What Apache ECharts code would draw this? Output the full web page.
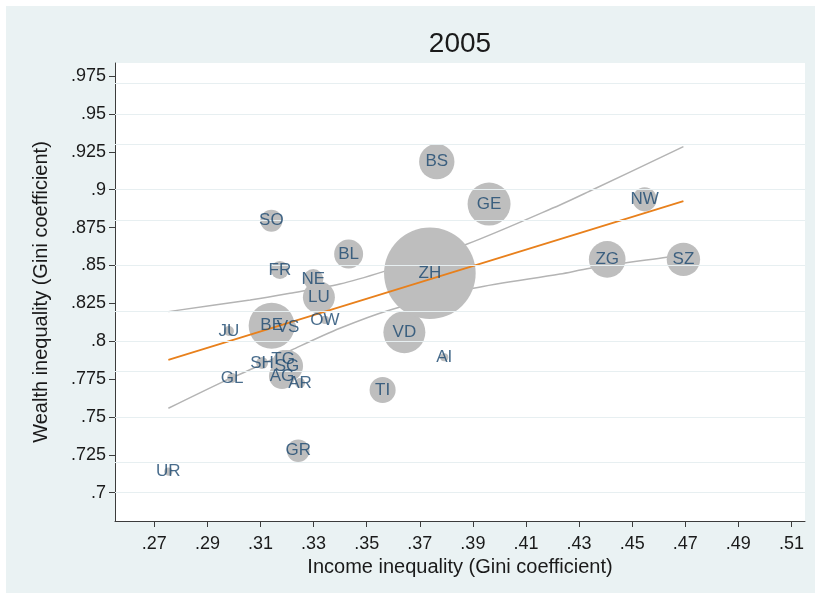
<!DOCTYPE html>
<html>
<head>
<meta charset="utf-8">
<script src="https://cdn.jsdelivr.net/npm/echarts@6/dist/echarts.min.js"></script>
<style>
  html, body { margin: 0; padding: 0; background: #ffffff; }
  #frame { position: absolute; left: 6px; top: 6px; width: 809px; height: 587px; background: #eaf2f3; }
  #chart { position: absolute; left: 0; top: 0; width: 821px; height: 599px; }
</style>
</head>
<body>
<div id="frame"></div>
<div id="chart"></div>
<script>
// Swiss cantons, 2005: income vs. wealth inequality (Gini coefficients)
const cantons = ['AG','AI','AR','BE','BL','BS','FR','GE','GL','GR','JU','LU','NE',
                 'NW','OW','SG','SH','SO','SZ','TG','TI','UR','VD','VS','ZG','ZH'];
const incomeGini = [0.3181,0.3792,0.3249,0.3142,0.3432,0.3764,0.3173,0.3961,0.2993,0.3242,0.2981,0.3320,0.3299,
                    0.4547,0.3343,0.3200,0.3106,0.3141,0.4693,0.3185,0.3560,0.2753,0.3642,0.3204,0.4406,0.3738];
const wealthGini = [0.7770,0.7894,0.7724,0.8102,0.8575,0.9185,0.8470,0.8905,0.7757,0.7277,0.8067,0.8290,0.8410,
                    0.8936,0.8140,0.7836,0.7856,0.8795,0.8540,0.7882,0.7678,0.7139,0.8059,0.8094,0.8540,0.8448];
// marker weights (ZH = 100)
const weights = [8.1,0.8,1.2,25.2,10.0,14.9,3.9,22.0,1.2,6.1,1.2,12.2,4.8,
                 6.9,0.8,12.2,1.7,5.8,13.3,3.9,8.1,0.8,21.0,3.1,16.0,100];

// linear fit and its confidence band
const fitX = [0.2753, 0.4693];
const fitY = [0.7876, 0.8925];
const ciUpperX = [0.2753,0.3061,0.3211,0.3399,0.3563,0.3874,0.4228,0.4341,0.4693];
const ciUpperY = [0.8195,0.8272,0.8316,0.8377,0.8459,0.8638,0.8899,0.8991,0.9284];
const ciLowerX = [0.2753,0.2960,0.3073,0.3218,0.3399,0.3588,0.3902,0.4228,0.4341,0.4630,0.4693];
const ciLowerY = [0.7557,0.7733,0.7821,0.7942,0.8085,0.8206,0.8349,0.8443,0.8481,0.8554,0.8569];

const xTicks = [0.27,0.29,0.31,0.33,0.35,0.37,0.39,0.41,0.43,0.45,0.47,0.49,0.51];
const yTicks = [0.7,0.725,0.75,0.775,0.8,0.825,0.85,0.875,0.9,0.925,0.95,0.975];

const FONT = "'Liberation Sans', Arial, Helvetica, sans-serif";
const pairs = (xs, ys) => xs.map((x, i) => [x, ys[i]]);
const fmt = v => String(parseFloat(Number(v).toFixed(3))).replace(/^0\./, '.');
const axisColor = '#3c3c3c';

const chart = echarts.init(document.getElementById('chart'), null, { renderer: 'canvas' });
chart.setOption({
  animation: false,
  backgroundColor: 'transparent',
  textStyle: { fontFamily: FONT },
  title: {
    text: '2005', left: 460, top: 30, textAlign: 'center', padding: 0,
    textStyle: { fontFamily: FONT, fontSize: 28, fontWeight: 'normal', color: '#1a1a1a' }
  },
  grid: {
    left: 115, top: 63, right: 16, bottom: 78,
    show: true, backgroundColor: '#ffffff', borderWidth: 0
  },
  xAxis: {
    type: 'value', min: 0.2552, max: 0.5151,
    name: 'Income inequality (Gini coefficient)', nameLocation: 'middle', nameGap: 35,
    nameTextStyle: { fontFamily: FONT, fontSize: 20, color: '#1a1a1a' },
    axisLine: { show: true, onZero: false, lineStyle: { color: axisColor, width: 1 } },
    axisTick: { show: true, customValues: xTicks, length: 6, lineStyle: { color: axisColor } },
    axisLabel: { customValues: xTicks, formatter: fmt, margin: 14,
                 fontFamily: FONT, fontSize: 18, color: '#1a1a1a' },
    splitLine: { show: false }
  },
  yAxis: {
    type: 'value', min: 0.6813, max: 0.9836,
    name: 'Wealth inequality (Gini coefficient)', nameLocation: 'middle', nameGap: 64,
    nameTextStyle: { fontFamily: FONT, fontSize: 20, color: '#1a1a1a' },
    axisLine: { show: true, onZero: false, lineStyle: { color: axisColor, width: 1 } },
    axisTick: { show: true, customValues: yTicks, length: 6, lineStyle: { color: axisColor } },
    axisLabel: { customValues: yTicks, formatter: fmt, margin: 9,
                 fontFamily: FONT, fontSize: 18, color: '#1a1a1a' },
    splitLine: { show: false }
  },
  series: [
    { // horizontal grid lines
      type: 'line', data: [], silent: true, z: 1,
      markLine: {
        silent: true, symbol: ['none', 'none'], label: { show: false },
        lineStyle: { color: '#e7eff1', width: 1.2, type: 'solid' },
        data: yTicks.map(v => ({ yAxis: v }))
      }
    },
    {
      type: 'line', data: pairs(ciUpperX, ciUpperY), showSymbol: false, smooth: 0.3,
      silent: true, z: 2, lineStyle: { color: '#b4b4b4', width: 1.5 }
    },
    {
      type: 'line', data: pairs(ciLowerX, ciLowerY), showSymbol: false, smooth: 0.3,
      silent: true, z: 2, lineStyle: { color: '#b4b4b4', width: 1.5 }
    },
    {
      type: 'scatter', silent: true, z: 3,
      data: incomeGini.map((x, i) => [x, wealthGini[i], weights[i]]),
      symbolSize: v => 91.6 * Math.sqrt(v[2] / 100),
      itemStyle: { color: '#bebebe', opacity: 1 }
    },
    {
      type: 'line', data: pairs(fitX, fitY), showSymbol: false, silent: true, z: 4,
      lineStyle: { color: '#e8801c', width: 1.8 }
    },
    { // canton labels
      type: 'scatter', silent: true, z: 5,
      data: incomeGini.map((x, i) => ({ value: [x, wealthGini[i]], name: cantons[i] })),
      symbolSize: 2, itemStyle: { color: 'rgba(0,0,0,0)' },
      label: {
        show: true, position: 'inside', formatter: p => p.name,
        fontFamily: FONT, fontSize: 17, color: '#1a476f',
        textBorderWidth: 0, textBorderColor: 'transparent'
      },
      labelLayout: { hideOverlap: false }
    }
  ]
});
</script>
</body>
</html>
